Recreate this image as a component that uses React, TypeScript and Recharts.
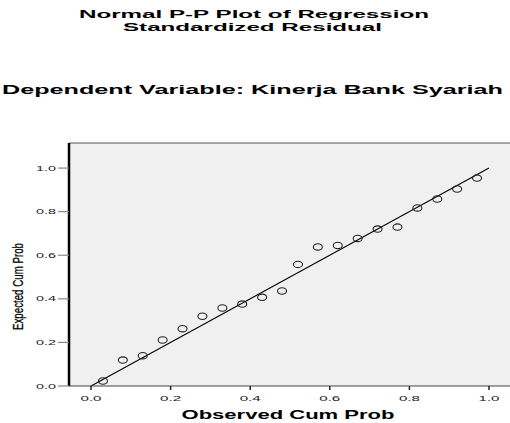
import React from 'react'
import { ScatterChart, Scatter, XAxis, YAxis, CartesianGrid, ReferenceLine } from 'recharts'

const observedCumProb = [0.03, 0.08, 0.13, 0.18, 0.23, 0.28, 0.33, 0.38, 0.43, 0.48, 0.52, 0.57, 0.62, 0.67, 0.72, 0.77, 0.82, 0.87, 0.92, 0.97]
const expectedCumProb = [0.023, 0.119, 0.139, 0.211, 0.263, 0.32, 0.358, 0.376, 0.407, 0.436, 0.558, 0.638, 0.645, 0.677, 0.72, 0.729, 0.817, 0.858, 0.904, 0.954]
const axisTicks = [0, 0.2, 0.4, 0.6, 0.8, 1.0]

const titleLines = ['Normal P-P Plot of Regression', 'Standardized Residual']
const subtitle = 'Dependent Variable: Kinerja Bank Syariah'

const font = '"Liberation Sans", Arial, sans-serif'

const points = observedCumProb.map((x, i) => ({ x, y: expectedCumProb[i] }))

const XTick = ({ x, y, payload }: any) => (
  <text x={x} y={y + 10.5} textAnchor="middle" fontSize={7} fontFamily={font} fill="#222"
    textLength={21} lengthAdjust="spacingAndGlyphs">
    {payload.value.toFixed(1)}
  </text>
)

const YTick = ({ x, y, payload }: any) => (
  <text x={x} y={y + 2.5} textAnchor="end" fontSize={7} fontFamily={font} fill="#222"
    textLength={20} lengthAdjust="spacingAndGlyphs">
    {payload.value.toFixed(1)}
  </text>
)

const Ring = ({ cx, cy }: any) => (
  <ellipse cx={cx} cy={cy} rx={4.5} ry={3.2} fill="none" stroke="#222" strokeWidth={1.1} />
)

export default function App() {
  return (
    <div style={{ position: 'absolute', left: 0, top: 0, width: 510, height: 423, background: '#fff' }}>
      <ScatterChart width={510} height={423} margin={{ top: 143, right: 0, bottom: 0, left: 0 }}>
        <CartesianGrid horizontal={false} vertical={false} fill="#f0f0f0" />
        <XAxis
          type="number"
          dataKey="x"
          domain={[-0.0553, 1.0528]}
          allowDataOverflow
          ticks={axisTicks}
          height={37}
          tickSize={4}
          tickMargin={0}
          tick={<XTick />}
          axisLine={{ stroke: '#444' }}
          tickLine={{ stroke: '#222', strokeWidth: 1.5 }}
          label={{
            content: () => (
              <text x={288} y={419.3} textAnchor="middle" fontSize={12} fontWeight="bold" fontFamily={font}
                fill="#000" textLength={213} lengthAdjust="spacingAndGlyphs">
                Observed Cum Prob
              </text>
            ),
          }}
        />
        <YAxis
          type="number"
          dataKey="y"
          domain={[0, 1.115]}
          allowDataOverflow
          ticks={axisTicks}
          width={69}
          tickSize={11}
          tickMargin={2}
          tick={<YTick />}
          axisLine={{ stroke: '#000', strokeWidth: 2.5 }}
          tickLine={{ stroke: '#888', strokeWidth: 1.2 }}
          label={{
            content: () => (
              <text transform="translate(23,286.5) rotate(-90)" textAnchor="middle" fontSize={14}
                fontFamily={font} fill="#000" stroke="#000" strokeWidth={0.25}
                textLength={87} lengthAdjust="spacingAndGlyphs">
                Expected Cum Prob
              </text>
            ),
          }}
        />
        <ReferenceLine y={1.115} stroke="#555" strokeWidth={1} ifOverflow="extendDomain" />
        <ReferenceLine segment={[{ x: 0, y: 0 }, { x: 1, y: 1 }]} stroke="#000" strokeWidth={1.1} />
        <Scatter data={points} shape={<Ring />} isAnimationActive={false} />
      </ScatterChart>
      <svg width={510} height={423} style={{ position: 'absolute', left: 0, top: 0, pointerEvents: 'none' }}>
        <text x={254} y={18.3} textAnchor="middle" fontSize={11.5} fontWeight="bold" fontFamily={font}
          textLength={350} lengthAdjust="spacingAndGlyphs">{titleLines[0]}</text>
        <text x={252.5} y={31} textAnchor="middle" fontSize={11.5} fontWeight="bold" fontFamily={font}
          textLength={259} lengthAdjust="spacingAndGlyphs">{titleLines[1]}</text>
        <text x={252.5} y={94.3} textAnchor="middle" fontSize={13.5} fontWeight="bold" fontFamily={font}
          textLength={501} lengthAdjust="spacingAndGlyphs">{subtitle}</text>
      </svg>
    </div>
  )
}
